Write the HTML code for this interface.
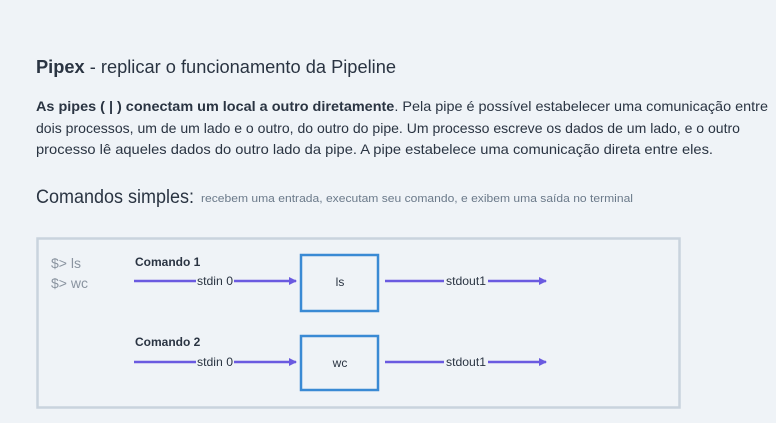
<!DOCTYPE html>
<html><head><meta charset="utf-8"><style>
html,body{margin:0;padding:0;background:#eff3f7;}
svg{display:block;font-family:"Liberation Sans",sans-serif;}
</style></head><body>
<svg width="776" height="423" viewBox="0 0 776 423" xmlns="http://www.w3.org/2000/svg">
<rect width="776" height="423" fill="#eff3f7"/>
<text x="36" y="73" font-size="18" fill="#2a3442" textLength="360" lengthAdjust="spacingAndGlyphs"><tspan font-weight="bold">Pipex</tspan> - replicar o funcionamento da Pipeline</text>
<g font-size="14" fill="#2a3442">
<text x="36" y="111" textLength="732" lengthAdjust="spacingAndGlyphs"><tspan font-weight="bold">As pipes ( | ) conectam um local a outro diretamente</tspan>. Pela pipe é possível estabelecer uma comunicação entre</text>
<text x="36" y="133" textLength="704" lengthAdjust="spacingAndGlyphs">dois processos, um de um lado e o outro, do outro do pipe. Um processo escreve os dados de um lado, e o outro</text>
<text x="36" y="154" textLength="677" lengthAdjust="spacingAndGlyphs">processo lê aqueles dados do outro lado da pipe. A pipe estabelece uma comunicação direta entre eles.</text>
</g>
<text x="36" y="203" font-size="19" fill="#2a3442" textLength="158" lengthAdjust="spacingAndGlyphs">Comandos simples:</text>
<text x="201" y="202" font-size="11" fill="#6b7a8a" textLength="432" lengthAdjust="spacingAndGlyphs">recebem uma entrada, executam seu comando, e exibem uma saída no terminal</text>
<rect x="37.5" y="238.5" width="642" height="169" fill="#eff3f7" stroke="#c9d3dd" stroke-width="2.5"/>
<text x="51" y="268" font-size="14" fill="#8a94a0">$&gt; ls</text>
<text x="51" y="288" font-size="14" fill="#8a94a0">$&gt; wc</text>
<defs><marker id="a" markerWidth="8" markerHeight="8" refX="7" refY="4" orient="auto" markerUnits="userSpaceOnUse"><path d="M0,0 L8,4 L0,8 z" fill="#6a5ae0"/></marker></defs>
<g stroke="#6a5ae0" stroke-width="2.5" fill="none">
<line x1="134" y1="281" x2="196" y2="281"/><line x1="234" y1="281" x2="296" y2="281" marker-end="url(#a)"/>
<line x1="385" y1="281" x2="444" y2="281"/><line x1="488" y1="281" x2="546" y2="281" marker-end="url(#a)"/>
<line x1="134" y1="362" x2="196" y2="362"/><line x1="234" y1="362" x2="296" y2="362" marker-end="url(#a)"/>
<line x1="385" y1="362" x2="444" y2="362"/><line x1="488" y1="362" x2="546" y2="362" marker-end="url(#a)"/>
</g>
<g font-size="12" fill="#2a3442">
<text x="135" y="266" font-weight="bold">Comando 1</text>
<text x="135" y="346" font-weight="bold">Comando 2</text>
<text x="197" y="285" textLength="36" lengthAdjust="spacingAndGlyphs">stdin 0</text>
<text x="197" y="366" textLength="36" lengthAdjust="spacingAndGlyphs">stdin 0</text>
<text x="446" y="285" textLength="40" lengthAdjust="spacingAndGlyphs">stdout1</text>
<text x="446" y="366" textLength="40" lengthAdjust="spacingAndGlyphs">stdout1</text>
<text x="340" y="286" text-anchor="middle">ls</text>
<text x="340" y="367" text-anchor="middle">wc</text>
</g>
<rect x="301" y="255" width="77" height="56" fill="none" stroke="#3a8ad4" stroke-width="2.5"/>
<rect x="301" y="336" width="77" height="54" fill="none" stroke="#3a8ad4" stroke-width="2.5"/>
</svg>
</body></html>
